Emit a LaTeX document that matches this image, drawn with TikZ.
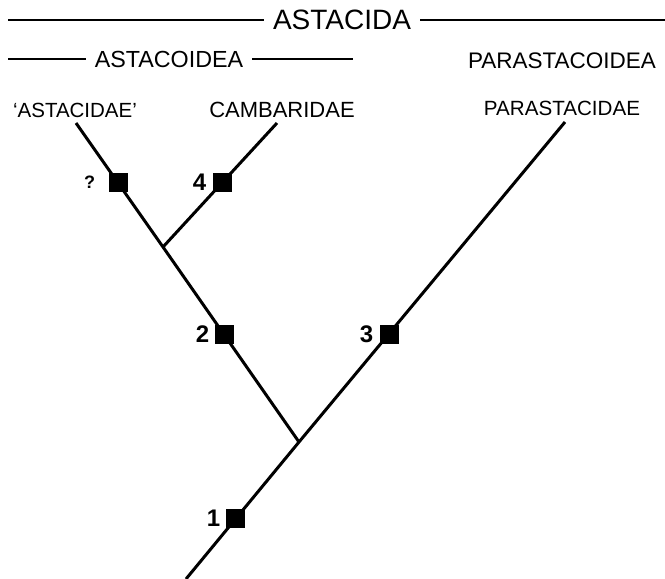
\documentclass[tikz,border=0pt]{standalone}
\usepackage{fontspec}
\setmainfont{Liberation Sans}
\usetikzlibrary{positioning}

\tikzset{
    branch/.style={line width=3pt, line cap=butt},
    bar/.style={line width=1.6pt},
    synapo/.style={rectangle, fill=black, inner sep=0pt, minimum size=19pt},
    num/.style={inner sep=0pt, font=\fontsize{24}{24}\selectfont\bfseries},
    taxon/.style={inner sep=0pt}
}

\begin{document}
\begin{tikzpicture}[x=1pt, y=-1pt]
    \useasboundingbox (0,0) rectangle (665,579);

    \coordinate (root) at (186,579);
    \coordinate (J0) at (299,442);
    \coordinate (J1) at (163,247);
    \coordinate (tipA) at (76,123);
    \coordinate (tipC) at (277,123);
    \coordinate (tipP) at (565,122);

    \draw[branch] (root) -- (J0) -- (tipP);
    \draw[branch] (J0) -- (J1) -- (tipA);
    \draw[branch] (J1) -- (tipC);

    \node[synapo] (s1) at (235,518) {};
    \node[synapo] (s2) at (224,334) {};
    \node[synapo] (s3) at (389,334) {};
    \node[synapo] (s4) at (222,182) {};
    \node[synapo] (sq) at (118,182) {};

    \node[num, left=5pt of s1] (n1) {1};
    \node[num, left=5pt of s2] (n2) {2};
    \node[num, left=6pt of s3] (n3) {3};
    \node[num, left=6pt of s4] (n4) {4};
    \node[num, left=13pt of sq, font=\fontsize{18}{18}\selectfont\bfseries] (nq) {?};

    \node[taxon, font=\fontsize{20.5}{22}\selectfont] (astacidae) at (75,110) {`ASTACIDAE'};
    \node[taxon, font=\fontsize{22}{22}\selectfont] (cambaridae) at (282,110) {CAMBARIDAE};
    \node[taxon, font=\fontsize{20.6}{22}\selectfont] (parastacidae) at (562,108) {PARASTACIDAE};

    \node[taxon, font=\fontsize{22.5}{24}\selectfont] (parastacoidea) at (562,61) {PARASTACOIDEA};
    \node[taxon, inner xsep=9pt, font=\fontsize{23.3}{24}\selectfont] (astacoidea) at (169,59) {ASTACOIDEA};
    \node[taxon, inner xsep=9pt, font=\fontsize{28}{30}\selectfont] (astacida) at (342,20) {ASTACIDA};

    \coordinate (aoL) at (8,59);
    \coordinate (aoR) at (353,59);
    \coordinate (adL) at (8,20);
    \coordinate (adR) at (665,20);

    \draw[bar] (aoL) -- (astacoidea.west);
    \draw[bar] (astacoidea.east) -- (aoR);
    \draw[bar] (adL) -- (astacida.west);
    \draw[bar] (astacida.east) -- (adR);
\end{tikzpicture}
\end{document}
